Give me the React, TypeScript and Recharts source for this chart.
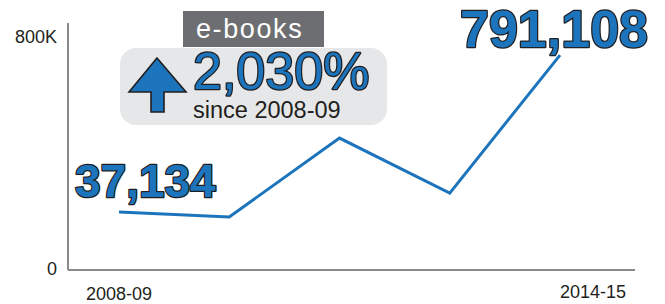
import { LineChart, Line, XAxis, YAxis, LabelList, Customized } from "recharts"

// five points between 2008-09 and 2014-15; only the ends are labelled
const years = ["2008-09", "2010-11", "2011-12", "2012-13", "2014-15"]
const ebooks = [200000, 183000, 455000, 265000, 741000]
// the printed figures at the two ends
const pointLabels = ["37,134", "", "", "", "791,108"]
const yTicks = [0, 800000]

const BLUE = "#1c75bc"
const INK = "#231f20"
const FONT = "'Liberation Sans', Arial, Helvetica, sans-serif"

const data = years.map((year, i) => ({ year, ebooks: ebooks[i], label: pointLabels[i] }))

function YTick({ x, y, payload }: any) {
  const v = payload.value
  return (
    <text x={x} y={y} dy="0.3em" textAnchor="end" fontSize={18} fill={INK} fontFamily={FONT}>
      {v >= 1000 ? `${v / 1000}K` : v}
    </text>
  )
}

function XTick({ x, y, payload, index }: any) {
  if (index !== 0 && index !== years.length - 1) return null
  const last = index === years.length - 1
  return (
    <text
      x={x + (last ? 33 : 0)}
      y={y + (last ? 20 : 22)}
      textAnchor="middle"
      fontSize={18}
      fill={INK}
      fontFamily={FONT}
    >
      {payload.value}
    </text>
  )
}

function PointLabel({ x, y, value, index }: any) {
  if (!value) return null
  const last = index === years.length - 1
  return (
    <text
      x={x + (last ? 88 : -44)}
      y={y + (last ? -8 : -15)}
      textAnchor={last ? "end" : "start"}
      fontSize={last ? 52 : 46}
      fontWeight="bold"
      fontFamily={FONT}
      fill={BLUE}
      stroke={INK}
      strokeWidth={2.5}
      paintOrder="stroke"
      strokeLinejoin="round"
    >
      {value}
    </text>
  )
}

function Callout() {
  return (
    <g fontFamily={FONT}>
      <rect x={120} y={48} width={267} height={77} rx={16} fill="#e6e7e8" />
      <rect x={183} y={11} width={141} height={36} fill="#6d6e71" />
      <text x={196} y={38} fontSize={27} letterSpacing={1.6} fill="#ffffff">
        e-books
      </text>
      <polygon
        points="157,58 186,92 164,92 164,112 151,112 151,92 129,92"
        fill={BLUE}
        stroke={INK}
        strokeWidth={1.6}
        strokeLinejoin="miter"
      />
      <text
        x={193}
        y={89}
        fontSize={52}
        fill={BLUE}
        stroke={INK}
        strokeWidth={2.5}
        paintOrder="stroke"
        strokeLinejoin="round"
      >
        2,030%
      </text>
      <text x={193} y={118} fontSize={23.5} fill={INK}>
        since 2008-09
      </text>
    </g>
  )
}

export default function App() {
  return (
    <div style={{ position: "absolute", left: 0, top: 0, width: 665, height: 304 }}>
      <LineChart width={665} height={304} data={data} margin={{ top: 23, right: 30, left: 8, bottom: 0 }}>
        <Customized component={Callout} />
        <XAxis
          dataKey="year"
          height={34}
          padding={{ left: 51, right: 75 }}
          axisLine={{ stroke: "#8a8a8c", strokeWidth: 2 }}
          tickLine={false}
          interval={0}
          tick={<XTick />}
        />
        <YAxis
          width={60}
          domain={[0, 851700]}
          ticks={yTicks}
          tickMargin={5}
          axisLine={{ stroke: "#8a8a8c", strokeWidth: 2 }}
          tickLine={false}
          tick={<YTick />}
        />
        <Line
          type="linear"
          dataKey="ebooks"
          stroke={BLUE}
          strokeWidth={3}
          dot={false}
          activeDot={false}
          isAnimationActive={false}
        >
          <LabelList dataKey="label" content={<PointLabel />} />
        </Line>
      </LineChart>
    </div>
  )
}
